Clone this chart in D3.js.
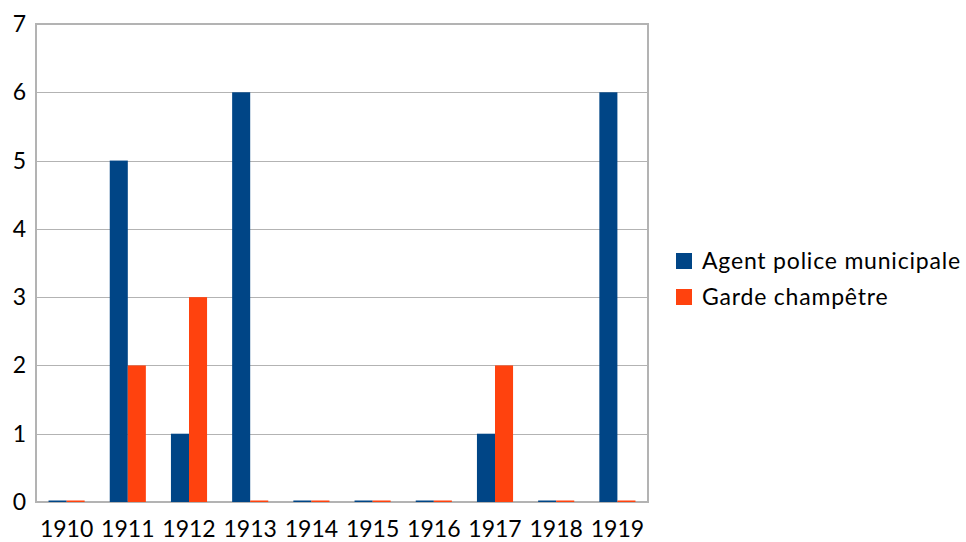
<!DOCTYPE html>
<meta charset="utf-8">
<script src="https://d3js.org/d3.v7.min.js"></script>
<style>
  body { margin: 0; background: #fff; }
  text { font-family: Lato, "Open Sans", sans-serif; fill: #000; }
  .grid line { stroke: #b3b3b3; stroke-width: 1; shape-rendering: crispEdges; }
  .grid path { display: none; }
</style>
<div id="vis"></div>
<script>
  var years = ["1910", "1911", "1912", "1913", "1914", "1915", "1916", "1917", "1918", "1919"]
  var agent = [0, 5, 1, 6, 0, 0, 0, 1, 0, 6]
  var garde = [0, 2, 3, 0, 0, 0, 0, 2, 0, 0]
  var seriesNames = ["Agent police municipale", "Garde champêtre"]
  var seriesColors = ["#004586", "#ff420e"]
  var yTicks = [0, 1, 2, 3, 4, 5, 6, 7]

  var margin = {top: 24, left: 36, right: 318, bottom: 40}
  var width = 966 - margin.left - margin.right
  var height = 542 - margin.top - margin.bottom

  var svg = d3.select("#vis").append("svg")
    .attr("width", 966).attr("height", 542)
    .append("g")
    .attr("transform", "translate(" + margin.left + "," + margin.top + ")")

  var x = d3.scaleBand().domain(years).range([0, width]).paddingInner(0.41).paddingOuter(0.205)
  var x1 = d3.scaleBand().domain([0, 1]).range([0, x.bandwidth()])
  var y = d3.scaleLinear().domain([0, 7]).range([height, 0])

  // horizontal grid
  svg.append("g")
    .attr("class", "grid")
    .call(d3.axisLeft(y).tickValues(yTicks).tickSize(-width).tickFormat(""))

  // frame
  svg.append("rect")
    .attr("width", width).attr("height", height)
    .attr("fill", "none").attr("stroke", "#b3b3b3").attr("stroke-width", 2)

  // bars
  var data = years.map(function (d, i) { return {year: d, values: [agent[i], garde[i]]} })
  var groups = svg.append("g").selectAll("g")
    .data(data).enter().append("g")
    .attr("transform", function (d) { return "translate(" + x(d.year) + ",0)" })
  groups.selectAll("rect")
    .data(function (d) { return d.values })
    .enter().append("rect")
    .attr("x", function (d, i) { return x1(i) })
    .attr("width", x1.bandwidth())
    .attr("y", function (d) { return Math.min(y(d), height - 1.5) })
    .attr("height", function (d) { return Math.max(height - y(d), 1.5) })
    .attr("fill", function (d, i) { return seriesColors[i] })

  // y labels
  svg.append("g").selectAll("text")
    .data(yTicks).enter().append("text")
    .attr("x", -10).attr("y", function (d) { return y(d) })
    .attr("dy", "0.35em")
    .attr("text-anchor", "end")
    .style("font-size", "23px")
    .text(function (d) { return d })

  // x labels
  svg.append("g").selectAll("text")
    .data(years).enter().append("text")
    .attr("x", function (d) { return x(d) + x.bandwidth() / 2 })
    .attr("y", height + 35)
    .attr("text-anchor", "middle")
    .style("font-size", "23px")
    .text(function (d) { return d })

  // legend
  var legend = svg.append("g")
    .attr("transform", "translate(" + (width + 28) + ",229)")
  seriesNames.forEach(function (name, i) {
    legend.append("rect")
      .attr("x", 0).attr("y", i * 36)
      .attr("width", 16).attr("height", 16)
      .attr("fill", seriesColors[i])
    legend.append("text")
      .attr("x", 26).attr("y", i * 36 + 16)
      .style("font-size", "23px")
      .style("letter-spacing", "0.8px")
      .text(name)
  })
</script>
